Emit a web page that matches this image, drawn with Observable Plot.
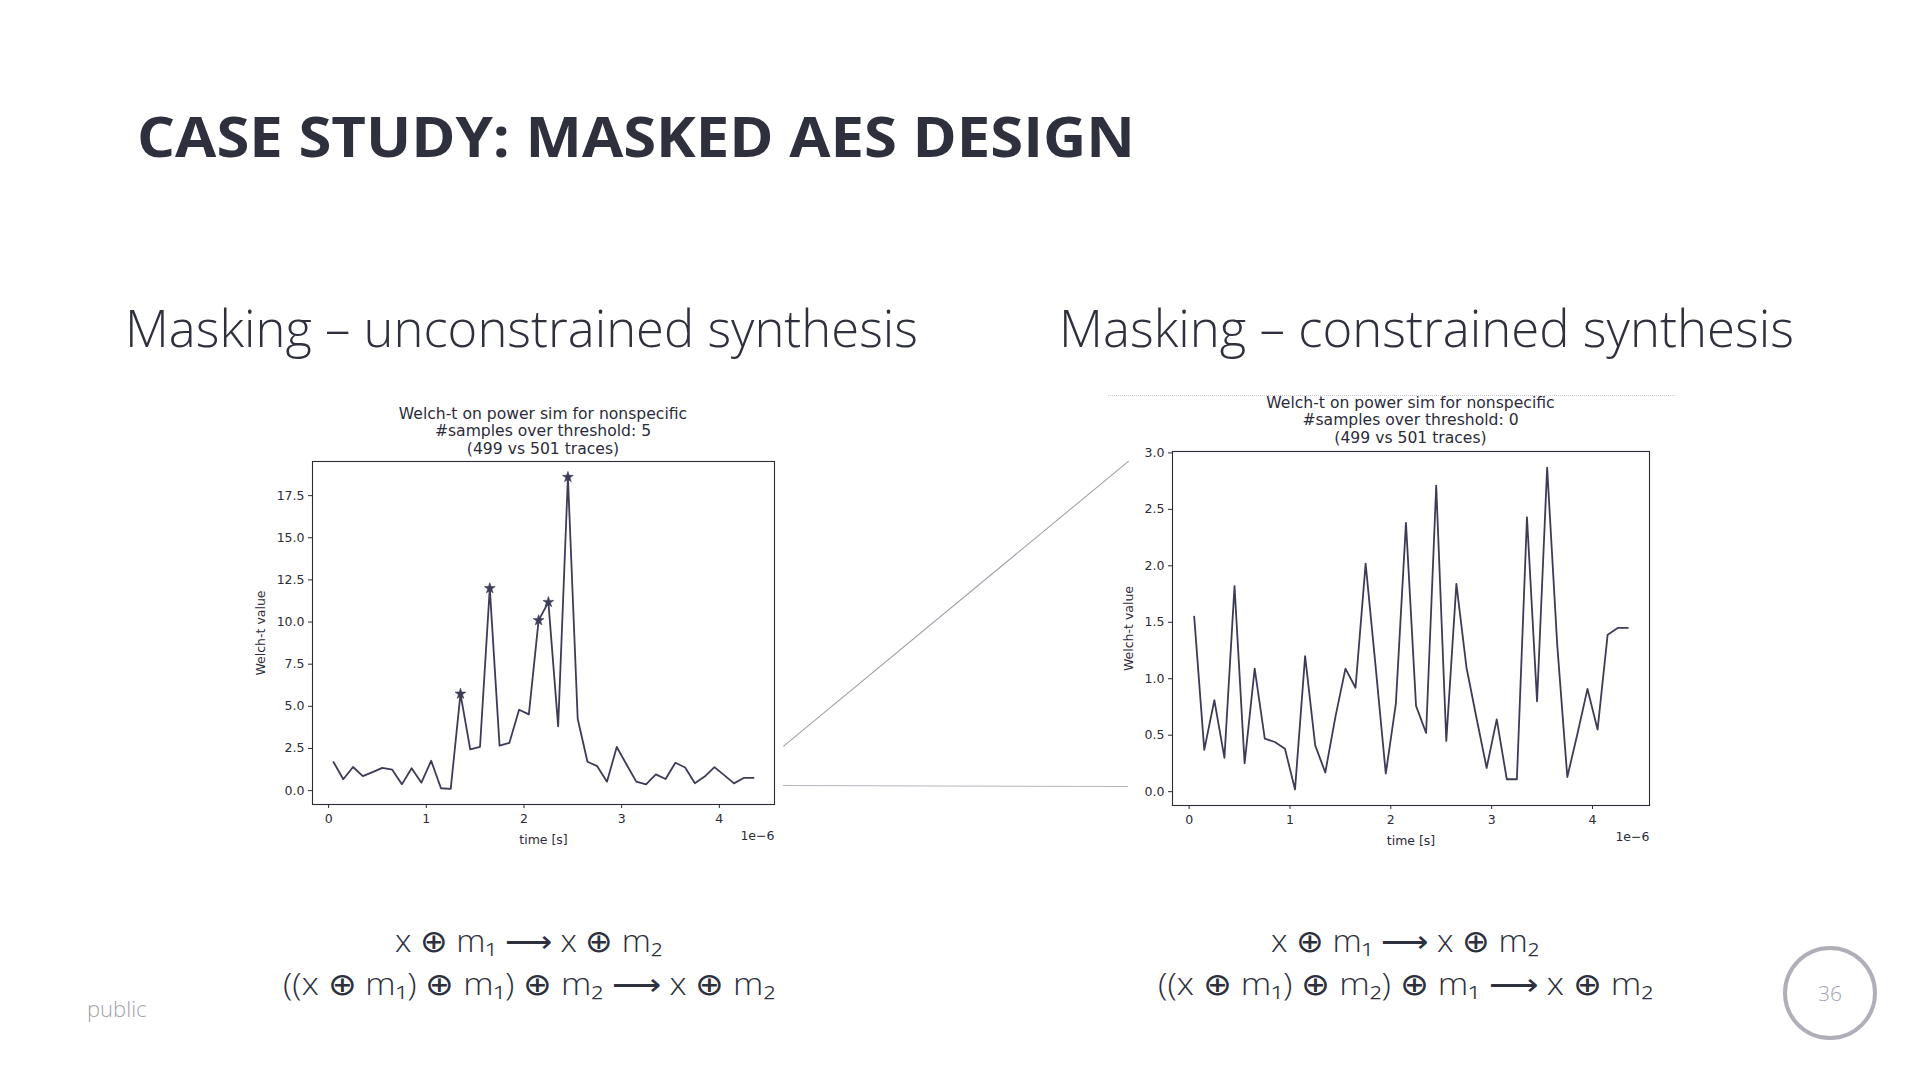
<!DOCTYPE html>
<html>
<head>
<meta charset="utf-8">
<script src="https://cdn.jsdelivr.net/npm/d3@7"></script>
<script src="https://cdn.jsdelivr.net/npm/@observablehq/plot@0.6"></script>
<style>
  html, body { margin: 0; padding: 0; background: #fff; }
  body { width: 1920px; height: 1080px; position: relative; overflow: hidden; color: #2e303d; }
  .abs { position: absolute; white-space: nowrap; transform-origin: 0 0; }
  .title { font-family: "Open Sans", sans-serif; font-weight: 700; font-size: 56px; line-height: 56px; }
  .sub { font-family: "Open Sans", sans-serif; font-weight: 300; font-size: 51px; line-height: 51px; }
  .formula { font-family: "Open Sans", "DejaVu Sans", sans-serif; font-weight: 300; font-size: 31px; line-height: 31px; }
  .ctitle { font-family: "DejaVu Sans", sans-serif; font-size: 15.6px; line-height: 17.3px; text-align: center; color: #2b2b3a; }
  .chart { position: absolute; }
  .public { font-family: "Open Sans", sans-serif; font-weight: 300; font-size: 22px; line-height: 22px; color: #a2a2ae; }
  .pagecircle { position: absolute; box-sizing: border-box; border: 4.5px solid #afafba; border-radius: 50%; }
  .pagenum { font-family: "Open Sans", sans-serif; font-weight: 300; font-size: 21px; color: #a2a2ae; text-align: center; }
  .conn { position: absolute; height: 0; transform-origin: 0 0; }
</style>
</head>
<body>
<div id="root"></div>
<script>
// ---- data ----
const times = [0.05, 0.15, 0.25, 0.35, 0.45, 0.55, 0.65, 0.75, 0.85, 0.95,
               1.05, 1.15, 1.25, 1.35, 1.45, 1.55, 1.65, 1.75, 1.85, 1.95,
               2.05, 2.15, 2.25, 2.35, 2.45, 2.55, 2.65, 2.75, 2.85, 2.95,
               3.05, 3.15, 3.25, 3.35, 3.45, 3.55, 3.65, 3.75, 3.85, 3.95,
               4.05, 4.15, 4.25, 4.35]; // × 1e-6 s

const unconstrainedValues = [1.70, 0.67, 1.40, 0.86, 1.10, 1.35, 1.25, 0.37, 1.33, 0.47,
                             1.77, 0.14, 0.10, 5.74, 2.44, 2.60, 12.00, 2.67, 2.83, 4.80,
                             4.52, 10.10, 11.18, 3.81, 18.60, 4.26, 1.71, 1.45, 0.53, 2.59,
                             1.55, 0.53, 0.37, 0.96, 0.69, 1.65, 1.37, 0.43, 0.83, 1.39,
                             0.92, 0.43, 0.75, 0.75];
const unconstrainedStarTimes = [1.35, 1.65, 2.15, 2.25, 2.45];

const constrainedValues = [1.55, 0.37, 0.81, 0.30, 1.82, 0.25, 1.09, 0.47, 0.44, 0.38,
                           0.02, 1.20, 0.41, 0.17, 0.66, 1.09, 0.92, 2.02, 1.10, 0.16,
                           0.78, 2.38, 0.76, 0.52, 2.71, 0.45, 1.84, 1.10, 0.65, 0.21,
                           0.64, 0.11, 0.11, 2.43, 0.80, 2.87, 1.30, 0.13, 0.51, 0.91,
                           0.55, 1.39, 1.45, 1.45];
const constrainedStarTimes = [];

const xTicks = [0, 1, 2, 3, 4];
const yTicksUnconstrained = [0, 2.5, 5, 7.5, 10, 12.5, 15, 17.5];
const yTicksConstrained = [0, 0.5, 1, 1.5, 2, 2.5, 3];

const slideTitle = "CASE STUDY: MASKED AES DESIGN";
const leftHeading = "Masking – unconstrained synthesis";
const rightHeading = "Masking – constrained synthesis";
const leftChartTitle = ["Welch-t on power sim for nonspecific", "#samples over threshold: 5", "(499 vs 501 traces)"];
const rightChartTitle = ["Welch-t on power sim for nonspecific", "#samples over threshold: 0", "(499 vs 501 traces)"];
const xLabel = "time [s]";
const yLabel = "Welch-t value";
const offsetText = "1e\u22126";
const leftFormulas = ["x ⊕ m\u2081 ⟶ x ⊕ m\u2082", "((x ⊕ m\u2081) ⊕ m\u2081) ⊕ m\u2082 ⟶ x ⊕ m\u2082"];
const rightFormulas = ["x ⊕ m\u2081 ⟶ x ⊕ m\u2082", "((x ⊕ m\u2081) ⊕ m\u2082) ⊕ m\u2081 ⟶ x ⊕ m\u2082"];

// ---- helpers ----
const root = document.getElementById("root");
function addDiv(cls, html, style) {
  const d = document.createElement("div");
  d.className = cls;
  d.innerHTML = html;
  Object.assign(d.style, style);
  root.appendChild(d);
  return d;
}
function addText(cls, text, style) {
  const d = document.createElement("div");
  d.className = cls;
  d.textContent = text;
  Object.assign(d.style, style);
  root.appendChild(d);
  return d;
}
function fitWidth(el, target) {
  const w = el.getBoundingClientRect().width;
  if (w > 0) el.style.transform = `scaleX(${target / w})`;
}
function padded([a, b]) { const r = b - a; return [a - 0.05 * r, b + 0.05 * r]; }

const ink = "#2b2b3a";
const lineColor = "#3c3c58";

function makeChart({values, starTimes, yTicks, frameW, frameH, yLabelOffset}) {
  const ML = 80, MR = 10, MT = 10, MB = 50;
  const data = times.map((t, i) => ({t, v: values[i]}));
  const stars = data.filter(d => starTimes.includes(d.t));
  return Plot.plot({
    width: frameW + ML + MR,
    height: frameH + MT + MB,
    marginLeft: ML, marginRight: MR, marginTop: MT, marginBottom: MB,
    style: {fontFamily: "DejaVu Sans, sans-serif", fontSize: "12.5px", color: ink, background: "transparent", overflow: "visible"},
    x: {domain: padded(d3.extent(times)), ticks: xTicks, tickFormat: d3.format("d"),
        label: xLabel, labelAnchor: "center", labelOffset: 39, labelArrow: "none", tickSize: 4, tickPadding: 6},
    y: {domain: padded(d3.extent(values)), ticks: yTicks, tickFormat: d3.format(".1f"),
        label: yLabel, labelAnchor: "center", labelOffset: yLabelOffset, labelArrow: "none", tickSize: 4, tickPadding: 4},
    marks: [
      Plot.line(data, {x: "t", y: "v", stroke: lineColor, strokeWidth: 1.8}),
      Plot.dot(stars, {x: "t", y: "v", symbol: "star", r: 3.4, fill: lineColor, stroke: lineColor, strokeWidth: 0.6}),
      Plot.frame({stroke: ink, strokeWidth: 1.1}),
      Plot.text([offsetText], {text: d => d, frameAnchor: "bottom-right", textAnchor: "end", dy: 35.5, fill: ink})
    ]
  });
}

// ---- slide text ----
const t = addText("abs title", slideTitle, {left: "137px", top: "107px"});
const s1 = addText("abs sub", leftHeading, {left: "125px", top: "302px"});
const s2 = addText("abs sub", rightHeading, {left: "1059px", top: "302px"});

// ---- charts ----
const leftChart = makeChart({values: unconstrainedValues, starTimes: unconstrainedStarTimes, yTicks: yTicksUnconstrained,
                             frameW: 462, frameH: 343, yLabelOffset: 56});
leftChart.classList.add("chart");
Object.assign(leftChart.style, {left: (312 - 80) + "px", top: (461 - 10) + "px"});
root.appendChild(leftChart);

const rightChart = makeChart({values: constrainedValues, starTimes: constrainedStarTimes, yTicks: yTicksConstrained,
                              frameW: 477, frameH: 354, yLabelOffset: 48});
rightChart.classList.add("chart");
Object.assign(rightChart.style, {left: (1172 - 80) + "px", top: (451 - 10) + "px"});
root.appendChild(rightChart);

leftChartTitle.forEach((line, i) =>
  addText("abs ctitle", line, {left: "312px", width: "462px", top: (406 + i * 17.3) + "px"}));
rightChartTitle.forEach((line, i) =>
  addText("abs ctitle", line, {left: "1172px", width: "477px", top: (395 + i * 17.3) + "px"}));

// ---- zoom connector decorations ----
addDiv("conn", "", {left: "783px", top: "746px", width: "448px", borderTop: "1px solid #9c9ca8", transform: "rotate(-39.56deg)"});
addDiv("conn", "", {left: "783px", top: "785px", width: "345px", borderTop: "1px solid #b4b4be", transform: "rotate(0.17deg)"});
addDiv("conn", "", {left: "1108px", top: "395px", width: "567px", borderTop: "1px dotted #c9c9d2"});

// ---- formulas ----
const f = [
  addText("abs formula", leftFormulas[0], {left: "395px", top: "925px"}),
  addText("abs formula", leftFormulas[1], {left: "283px", top: "968px"}),
  addText("abs formula", rightFormulas[0], {left: "1271px", top: "925px"}),
  addText("abs formula", rightFormulas[1], {left: "1158px", top: "968px"})
];

// ---- footer ----
addText("abs public", "public", {left: "87px", top: "997px"});
addDiv("pagecircle", "", {left: "1783px", top: "946px", width: "94px", height: "94px"});
addText("abs pagenum", "36", {left: "1783px", top: "979px", width: "94px"});

// ---- width fitting to match the slide ----
fitWidth(t, 998);
fitWidth(s1, 793);
fitWidth(s2, 735);
fitWidth(f[0], 267);
fitWidth(f[1], 492);
fitWidth(f[2], 268);
fitWidth(f[3], 495);
</script>
</body>
</html>
